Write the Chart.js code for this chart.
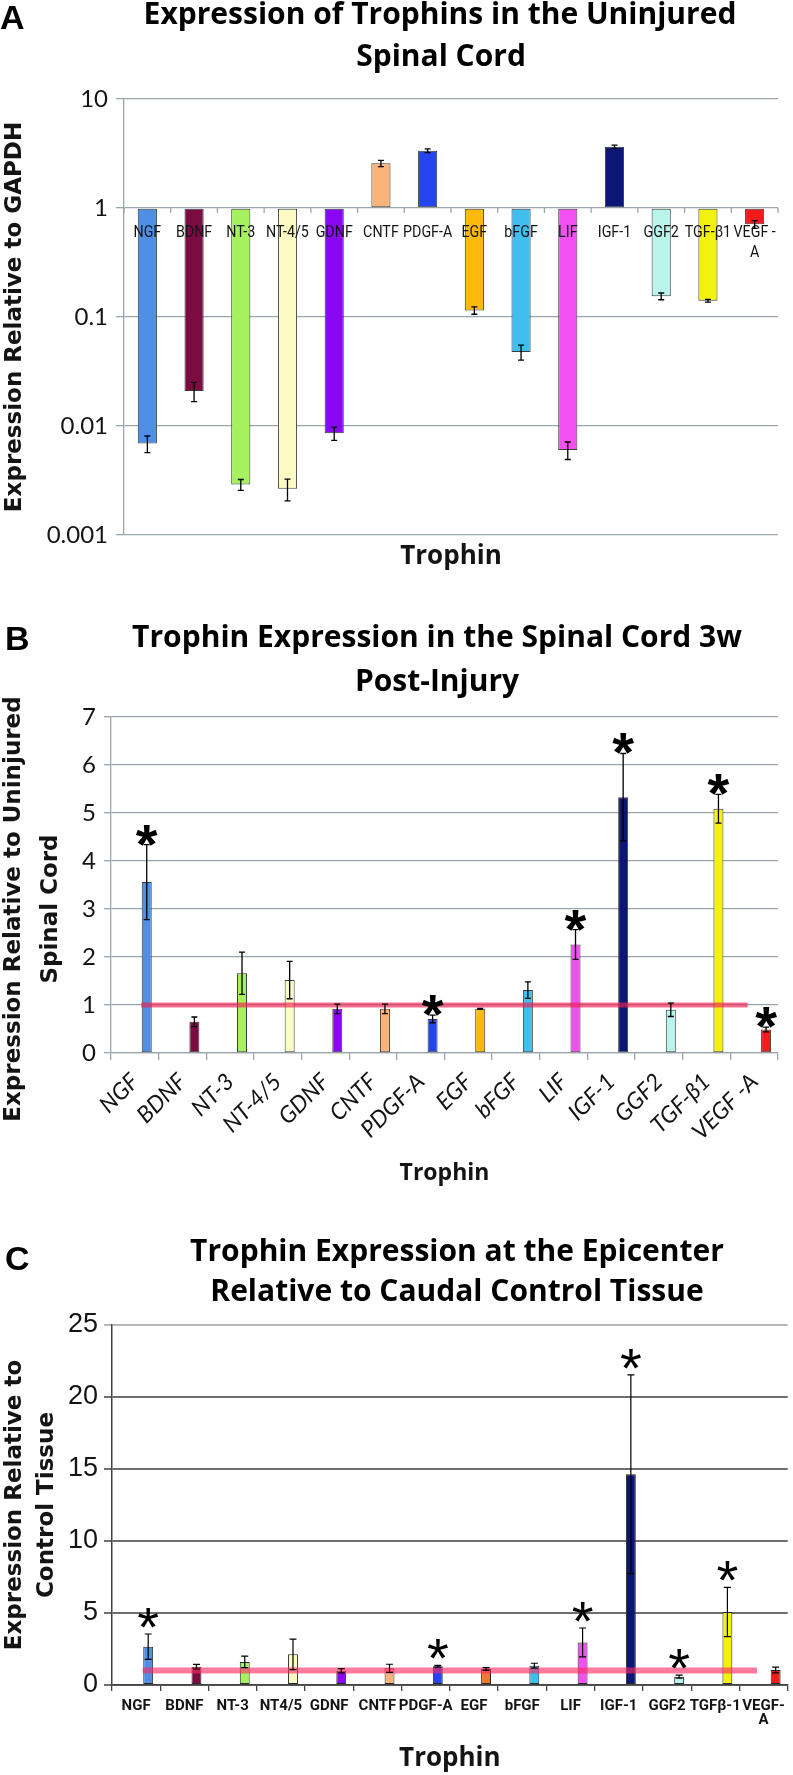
<!DOCTYPE html>
<html>
<head>
<meta charset="utf-8">
<script src="https://cdn.jsdelivr.net/npm/chart.js@4.4.1/dist/chart.umd.min.js"></script>
<style>
  html, body { margin: 0; padding: 0; background: #fff; }
  #page { position: relative; width: 793px; height: 1775px; overflow: hidden; }
  .panel { position: absolute; left: 0; width: 793px; }
  .letter { position: absolute; font-family: 'Liberation Sans', Arial, sans-serif; font-weight: bold; font-size: 34px; line-height: 1; }
  .ttl { position: absolute; font-family: 'Open Sans', sans-serif; font-weight: 700; font-size: 30px; line-height: 1; white-space: nowrap; transform: translateX(-50%); }
</style>
</head>
<body>
<div id="page">
  <div class="panel" style="top:0;height:590px"><canvas id="chartA"></canvas></div>
  <div class="panel" style="top:590px;height:620px"><canvas id="chartB"></canvas></div>
  <div class="panel" style="top:1210px;height:565px"><canvas id="chartC"></canvas></div>

  <div class="letter" style="left:0;top:0">A</div>
  <div class="ttl" style="left:440px;top:-2px">Expression of Trophins in the Uninjured</div>
  <div class="ttl" style="left:441px;top:40px">Spinal Cord</div>

  <div class="letter" style="left:5px;top:621px">B</div>
  <div class="ttl" style="left:437px;top:621px">Trophin Expression in the Spinal Cord 3w</div>
  <div class="ttl" style="left:437px;top:665px">Post-Injury</div>

  <div class="letter" style="left:5px;top:1241px">C</div>
  <div class="ttl" style="left:457px;top:1235px">Trophin Expression at the Epicenter</div>
  <div class="ttl" style="left:457px;top:1275px">Relative to Caudal Control Tissue</div>
</div>
<script>
// categories
const trophinsA = ['NGF', 'BDNF', 'NT-3', 'NT-4/5', 'GDNF', 'CNTF', 'PDGF-A', 'EGF', 'bFGF', 'LIF', 'IGF-1', 'GGF2', 'TGF-β1', ['VEGF -', 'A']];
const trophinsB = ['NGF', 'BDNF', 'NT-3', 'NT-4/5', 'GDNF', 'CNTF', 'PDGF-A', 'EGF', 'bFGF', 'LIF', 'IGF-1', 'GGF2', 'TGF-β1', 'VEGF -A'];
const trophinsC = ['NGF', 'BDNF', 'NT-3', 'NT4/5', 'GDNF', 'CNTF', 'PDGF-A', 'EGF', 'bFGF', 'LIF', 'IGF-1', 'GGF2', 'TGFβ-1', ['VEGF-', 'A']];

const colorsB = ['#4f8fe6', '#7b0c42', '#a6f25e', '#fbfbc3', '#8b06f5', '#f9b47c', '#2444f2', '#fdb90c', '#3ebfee', '#f250f0', '#0b1678', '#b9f5ec', '#f2f20e', '#f21c1c'];
const colorsA = colorsB;
const colorsC = ['#4f8fe6', '#7b0c42', '#a6f25e', '#fbfbc3', '#8b06f5', '#f9b47c', '#2444f2', '#f3782a', '#3ebfee', '#f250f0', '#0b1678', '#b9f5ec', '#f2f20e', '#f21c1c'];

// A: relative to GAPDH (log scale)
const exprA = [0.0069, 0.0209, 0.0029, 0.00266, 0.00857, 2.57, 3.35, 0.115, 0.0477, 0.00603, 3.65, 0.155, 0.141, 0.708];
const errA = [0.0012, 0.0042, 0.00033, 0.0006, 0.0012, 0.17, 0.13, 0.009, 0.0075, 0.0011, 0.13, 0.011, 0.004, 0.057];
const ticksA = [10, 1, 0.1, 0.01, 0.001];

// B: 3w post-injury relative to uninjured
const exprB = [3.56, 0.65, 1.66, 1.52, 0.92, 0.92, 0.71, 0.92, 1.31, 2.26, 5.33, 0.90, 5.09, 0.49];
const errB = [0.78, 0.10, 0.44, 0.39, 0.10, 0.10, 0.08, 0.01, 0.17, 0.31, 0.91, 0.14, 0.30, 0.05];
const sigB = [1, 0, 0, 0, 0, 0, 1, 0, 0, 1, 1, 0, 1, 1];

// C: epicenter relative to caudal control
const exprC = [2.66, 1.27, 1.60, 2.13, 0.99, 1.16, 1.30, 1.11, 1.34, 2.96, 14.63, 0.58, 5.07, 1.04];
const errC = [0.88, 0.16, 0.40, 1.06, 0.15, 0.28, 0.06, 0.10, 0.17, 1.00, 6.90, 0.10, 1.71, 0.20];
const sigC = [1, 0, 0, 0, 0, 0, 1, 0, 0, 1, 1, 1, 1, 0];

const refLevel = 1;

const gray = '#9aa6ad';
const ink = '#141414';
Chart.defaults.color = ink;

// trailing no-break spaces push a centred axis title down a little
const padTail = (text, n) => text + '\u00a0'.repeat(n);

function errorBars(datasetIndex, values, errors, stars, style) {
  return {
    id: 'errorBars',
    afterDatasetsDraw(chart) {
      const ctx = chart.ctx;
      const y = chart.scales.y;
      const bars = chart.getDatasetMeta(datasetIndex).data;
      ctx.save();
      ctx.strokeStyle = '#000';
      ctx.lineWidth = style.width;
      bars.forEach((bar, i) => {
        const top = y.getPixelForValue(values[i] + errors[i]);
        const bottom = y.getPixelForValue(values[i] - errors[i]);
        ctx.beginPath();
        ctx.moveTo(bar.x, top); ctx.lineTo(bar.x, bottom);
        ctx.moveTo(bar.x - style.cap, top); ctx.lineTo(bar.x + style.cap, top);
        ctx.moveTo(bar.x - style.cap, bottom); ctx.lineTo(bar.x + style.cap, bottom);
        ctx.stroke();
        if (stars && stars[i]) {
          ctx.fillStyle = '#000';
          ctx.font = style.starFont;
          ctx.textAlign = 'center';
          ctx.textBaseline = 'alphabetic';
          ctx.fillText('*', bar.x, top - style.starGap + style.starDrop);
        }
      });
      ctx.restore();
    }
  };
}

// panel A puts its category labels on the line at 1
const labelsAtOne = {
  id: 'labelsAtOne',
  afterDatasetsDraw(chart) {
    const {ctx, scales: {x, y}} = chart;
    const y1 = y.getPixelForValue(1);
    ctx.save();
    ctx.strokeStyle = gray;
    ctx.lineWidth = 1.3;
    ctx.beginPath();
    for (let i = 0; i <= trophinsA.length; i++) {
      const px = x.getPixelForValue(i - 0.5);
      ctx.moveTo(px, y1); ctx.lineTo(px, y1 + 5);
    }
    ctx.stroke();
    ctx.fillStyle = ink;
    ctx.font = '17px Roboto, sans-serif';
    ctx.textAlign = 'center';
    ctx.textBaseline = 'middle';
    trophinsA.forEach((lab, i) => {
      const px = x.getPixelForValue(i);
      const lines = Array.isArray(lab) ? lab : [lab];
      lines.forEach((t, k) => {
        ctx.save();
        ctx.translate(px, y1 + 25 + k * 20);
        ctx.scale(0.84, 1);
        ctx.fillText(t, 0, 0);
        ctx.restore();
      });
    });
    ctx.restore();
  }
};

const yTitleFont = { family: "'DejaVu Sans', sans-serif", weight: 'bold', size: 23 };
const xTitleFont = { family: "'Open Sans', sans-serif", weight: 'bold', size: 26, lineHeight: 1.2 };

new Chart(document.getElementById('chartA'), {
  type: 'bar',
  data: {
    labels: trophinsA,
    datasets: [{
      data: exprA,
      base: 1,
      backgroundColor: colorsA,
      borderColor: '#3c3c3c',
      borderWidth: 1,
      borderSkipped: false,
      barPercentage: 0.41,
      categoryPercentage: 1
    }]
  },
  options: {
    responsive: true,
    maintainAspectRatio: false,
    animation: false,
    layout: { padding: { top: 99, right: 15, left: 0, bottom: 0 } },
    plugins: { legend: { display: false }, tooltip: { enabled: false } },
    scales: {
      x: {
        ticks: { display: false },
        grid: { display: false },
        border: { display: false },
        title: { display: true, text: 'Trophin', font: xTitleFont, padding: { top: 0, bottom: 18 } },
        afterFit: s => { s.height = 55; }
      },
      y: {
        type: 'logarithmic',
        min: 0.001,
        max: 10,
        afterBuildTicks: s => { s.ticks = ticksA.map(v => ({ value: v })); },
        ticks: { callback: v => String(v), font: { family: 'Lato, sans-serif', size: 24 }, padding: 8, color: ink },
        grid: { color: gray, lineWidth: 1.3, tickLength: 8 },
        border: { color: gray, width: 1.3 },
        title: { display: true, text: 'Expression Relative to GAPDH', font: { ...yTitleFont, lineHeight: 1.2 }, padding: { top: 1 } },
        afterFit: s => { s.width = 124; }
      }
    }
  },
  plugins: [errorBars(0, exprA, errA, null, { width: 1.3, cap: 3 }), labelsAtOne]
});

new Chart(document.getElementById('chartB'), {
  type: 'bar',
  data: {
    labels: trophinsB,
    datasets: [{
      type: 'line',
      xAxisID: 'xr',
      data: [{ x: 0, y: refLevel }, { x: 1, y: refLevel }],
      borderColor: 'rgba(240, 30, 80, 0.65)',
      borderWidth: 5,
      pointRadius: 0,
      order: 0
    }, {
      type: 'bar',
      data: exprB,
      backgroundColor: colorsB,
      borderColor: '#3c3c3c',
      borderWidth: 1,
      borderSkipped: false,
      barPercentage: 0.42,
      categoryPercentage: 1,
      order: 1
    }]
  },
  options: {
    responsive: true,
    maintainAspectRatio: false,
    animation: false,
    layout: { padding: { top: 127, right: 15, left: 0, bottom: 0 } },
    plugins: { legend: { display: false }, tooltip: { enabled: false } },
    scales: {
      x: {
        ticks: { minRotation: 45, maxRotation: 45, autoSkip: false, padding: 8, color: ink,
                 font: { family: 'Lato, sans-serif', style: 'italic', size: 23 } },
        grid: { drawOnChartArea: false, offset: true, tickLength: 7, color: gray, lineWidth: 1.3 },
        border: { color: gray, width: 1.3 },
        title: { display: true, text: 'Trophin', font: { ...xTitleFont, size: 23 }, padding: { top: 0, bottom: 23 } },
        afterFit: s => { s.height = 157; }
      },
      xr: { type: 'linear', min: 0, max: 1, display: false },
      y: {
        min: 0,
        max: 7,
        ticks: { stepSize: 1, font: { family: 'Lato, sans-serif', size: 24 }, padding: 8, color: ink },
        grid: { color: gray, lineWidth: 1.3, tickLength: 7 },
        border: { color: gray, width: 1.3 },
        title: { display: true, text: [padTail('Expression Relative to Uninjured', 6), padTail('Spinal Cord', 6)],
                 font: { ...yTitleFont, lineHeight: '37px' }, padding: { top: -4 } },
        afterFit: s => { s.width = 111; }
      }
    }
  },
  plugins: [errorBars(1, exprB, errB, sigB, { width: 1.3, cap: 3, starFont: "bold 56px 'Liberation Sans', sans-serif", starGap: 14, starDrop: 32 })]
});

new Chart(document.getElementById('chartC'), {
  type: 'bar',
  data: {
    labels: trophinsC,
    datasets: [{
      type: 'line',
      xAxisID: 'xr',
      data: [{ x: 0, y: refLevel }, { x: 1, y: refLevel }],
      borderColor: 'rgba(255, 40, 100, 0.62)',
      borderWidth: 6,
      pointRadius: 0,
      order: 0
    }, {
      type: 'bar',
      data: exprC,
      backgroundColor: colorsC,
      borderColor: '#2a2a2a',
      borderWidth: 1,
      borderSkipped: false,
      barPercentage: 0.41,
      categoryPercentage: 1,
      order: 1
    }]
  },
  options: {
    responsive: true,
    maintainAspectRatio: false,
    animation: false,
    layout: { padding: { top: 115, right: 3, left: 0, bottom: 0 } },
    plugins: { legend: { display: false }, tooltip: { enabled: false } },
    scales: {
      x: {
        ticks: { maxRotation: 0, autoSkip: false, padding: 8, color: ink,
                 font: { family: 'Roboto, sans-serif', weight: 'bold', size: 15, lineHeight: 0.93 } },
        grid: { drawOnChartArea: false, offset: true, tickLength: 6, color: '#444', lineWidth: 1.3 },
        border: { color: '#444', width: 1.5 },
        title: { display: true, text: 'Trophin', font: xTitleFont, padding: { top: 0, bottom: 1 } },
        afterFit: s => { s.height = 90; }
      },
      xr: { type: 'linear', min: 0, max: 1, display: false },
      y: {
        min: 0,
        max: 25,
        ticks: { stepSize: 5, font: { family: "'Liberation Sans', sans-serif", size: 27 }, padding: 6, color: ink },
        grid: { color: ctx => (ctx.tick && ctx.tick.value === 25 ? '#b8b8b8' : '#6e6e6e'), lineWidth: 2, tickLength: 8 },
        border: { color: '#444', width: 1.5 },
        title: { display: true, text: ['Expression Relative to', 'Control Tissue'],
                 font: { ...yTitleFont, lineHeight: '32px' }, padding: { top: -1 } },
        afterFit: s => { s.width = 112; }
      }
    }
  },
  plugins: [errorBars(1, exprC, errC, sigC, { width: 1.2, cap: 3.5, starFont: "56px 'Liberation Sans', sans-serif", starGap: 20, starDrop: 32 })]
});
</script>
</body>
</html>
